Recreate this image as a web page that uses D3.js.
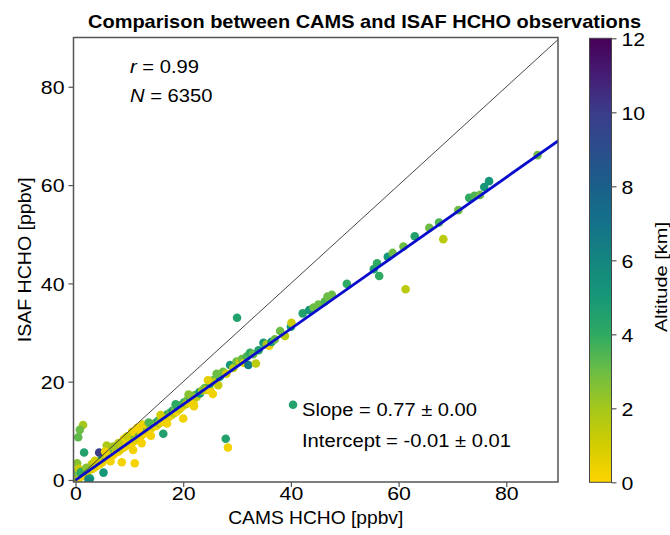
<!DOCTYPE html>
<html>
<head>
<meta charset="utf-8">
<script src="https://cdn.jsdelivr.net/npm/d3@7"></script>
<style>
  body { margin: 0; background: #fff; }
  text { font-family: "Liberation Sans", Arial, sans-serif; fill: #000; }
</style>
</head>
<body>
<svg id="chart" width="670" height="535"></svg>
<script>
// CAMS HCHO (x), ISAF HCHO (y), altitude (km)
var camsX = [
  0.2,0.4,0.5,0.8,1.0,1.2,1.5,1.7,2.0,2.2,2.4,2.7,2.5,3.0,3.2,3.5,3.8,4.0,4.2,4.5,4.8,5.0,5.2,5.5,5.8,6.0,
  1.4,0.8,0.5,1.6,4.4,0.3,0.1,0.6,
  6.3,6.5,6.8,7.0,7.2,7.5,7.8,8.0,8.3,8.6,8.5,8.8,9.0,9.3,9.5,9.8,10.0,10.3,10.5,10.7,10.8,11.0,11.0,11.3,11.5,11.8,12.0,12.2,12.5,12.8,12.0,
  13.0,13.3,13.5,13.8,14.0,14.3,14.5,14.8,15.0,15.3,15.5,15.8,16.0,16.3,16.5,16.8,17.0,17.3,17.5,17.8,18.0,18.3,18.5,18.8,19.0,19.3,19.5,19.8,20.0,20.2,20.5,
  20.8,21.0,21.3,21.6,21.9,22.2,22.5,23.0,23.1,23.5,24.0,24.3,25.0,25.0,25.5,26.0,26.5,26.8,27.0,27.4,28.0,28.7,29.3,29.9,30.5,30.9,31.3,31.8,32.1,32.4,33.0,33.5,34.0,34.9,35.5,36.0,36.4,37.0,38.0,38.9,40.0,40.1,
  30.0,40.4,27.9,28.3,
  42.2,43.4,44.2,45.1,46.3,46.8,47.6,50.4,55.4,56.4,56.0,58.0,58.9,60.9,61.3,63.0,65.7,67.5,68.3,71.1,73.1,74.1,75.1,75.9,76.8,85.8,
  10.5,11.5,9.0,12.5,8.0,7.0,3.0,6.5,14.0,12.3,17.0,22.0,25.5,2.5,1.0,2.0,3.6,5.5,9.6,13.6,15.8,18.6,21.0,24.6,26.2
];
var isafY = [
  0.3,0.1,0.6,0.5,1.2,0.8,1.4,1.1,1.8,1.5,0.2,0.3,2.3,2.2,2.8,2.5,3.3,2.9,3.6,3.2,4.2,3.6,1.5,4.6,7.0,4.5,
  11.2,10.2,8.7,5.6,5.6,3.4,1.7,2.3,
  5.2,4.9,5.5,5.1,6.0,5.6,6.3,5.8,6.8,3.6,6.3,7.1,6.6,7.6,7.0,8.1,7.3,8.3,7.6,6.1,8.8,3.4,8.0,9.0,8.5,9.5,8.8,9.7,9.3,10.2,10.0,
  9.6,10.6,10.0,11.0,10.4,11.3,10.9,11.6,11.0,12.0,11.5,12.4,11.8,9.4,12.8,12.3,13.3,12.8,13.6,13.2,14.1,13.6,14.5,13.9,14.9,14.4,15.2,14.9,12.5,15.8,15.4,
  16.3,15.7,16.6,16.3,15.6,17.3,16.9,17.9,17.6,18.2,18.7,18.3,18.3,19.6,20.3,20.0,19.3,21.0,21.4,22.0,21.6,23.4,22.8,24.1,24.0,24.6,23.8,25.1,23.4,25.9,25.6,23.7,26.4,27.9,27.6,27.3,28.1,28.6,30.3,29.3,31.2,32.0,
  33.0,15.3,8.4,6.6,
  33.9,34.6,35.1,35.7,36.3,37.3,37.7,39.9,42.9,41.5,44.1,45.4,46.2,47.5,38.8,49.6,51.3,52.4,49.0,54.9,57.4,57.8,58.0,59.6,60.8,66.1,
  9.8,10.6,8.4,11.3,7.5,6.8,3.2,3.8,9.0,7.5,11.5,15.0,17.5,-0.2,1.6,2.5,3.9,5.8,8.9,11.7,13.2,15.4,17.4,20.3,21.6
];
var altKm = [
  5,1,3,0.5,4,0.3,2,0.2,3.5,0.8,6,5,4,1,2.5,0.4,3,0.6,1.5,0.2,4.5,0.5,5,2,1.8,0.3,
  2,3,3.2,4.5,10,2.5,3,1.2,
  4,0.8,1.5,0.3,3.5,0.5,2,0.2,4.5,0.3,1,3,0.4,2.5,0.2,4,0.6,1.5,0.3,0.3,5,0.2,0.5,3,0.8,4.5,0.4,2,0.5,3.5,0.3,
  0.2,4,0.6,2.5,0.3,5,1,3,0.4,4.5,1.5,3,0.3,4.5,2,0.5,4,1,3.5,0.4,4.5,1.5,3,0.3,5,1,3.5,0.6,0.3,4,1.5,
  3,0.4,4.5,1.2,0.3,3,1.5,4.5,5,2,3,1,0.3,4,3,1.5,1.3,5,3.5,3,1,5,1.5,3,1.2,3,0.5,3.5,6.5,4,3,1.5,4.5,5,2,0.5,5,3,3,1.5,5,1.2,
  4.5,4.5,4.5,0.3,
  4.5,5,3,3,3.5,3,3,4,4.5,4,4,5,3,3,1.5,4.5,3,3.5,1.5,3,4,3.5,3,5,5,3,
  0.3,0.2,0.5,0.4,1.5,2,1.5,0.3,0.3,0.2,0.3,0.4,0.3,6,4,2.5,1,0.4,1.2,3.5,1,4,2.5,0.6,3
];

var fitSlope = 0.77, fitIntercept = -0.01;
var xTicks = [0, 20, 40, 60, 80];
var yTicks = [0, 20, 40, 60, 80];
var cbTicks = [0, 2, 4, 6, 8, 10, 12];
var cmapStops = [0, 1, 2, 3, 4, 5, 6, 7, 8, 9, 10, 11, 12];
var cmapColors = ['#ffd400', '#d2cd00', '#a5c71c', '#6cbd45', '#2eaa62', '#169878', '#13857f',
                  '#14728a', '#1a5f8a', '#2b4d8c', '#3b3c8a', '#451d74', '#470057'];

var svg = d3.select('#chart');
var L = 73.5, R = 558, T = 37.5, B = 482;

var x = d3.scaleLinear().domain([-0.37, 89.6]).range([L, R]);
var y = d3.scaleLinear().domain([-0.41, 90.03]).range([B, T]);
var color = d3.scaleLinear().domain(cmapStops).range(cmapColors).interpolate(d3.interpolateRgb);

// the figure looks horizontally stretched, so stretch the text the same way
function stretch(sel, k) {
    sel.each(function() {
        var w = this.getComputedTextLength();
        d3.select(this).attr('textLength', w * k).attr('lengthAdjust', 'spacingAndGlyphs');
    });
}

svg.append('clipPath').attr('id', 'clip')
    .append('rect').attr('x', L).attr('y', T).attr('width', R - L).attr('height', B - T);

var plot = svg.append('g').attr('clip-path', 'url(#clip)');

var pts = camsX.map((d, i) => ({ x: d, y: isafY[i], a: altKm[i] }));
plot.selectAll('circle').data(pts).enter()
    .append('circle')
    .attr('cx', d => x(d.x))
    .attr('cy', d => y(d.y))
    .attr('r', 4.3)
    .attr('fill', d => color(d.a));

// 1:1 line
plot.append('line')
    .attr('x1', x(-1)).attr('y1', y(-1)).attr('x2', x(95)).attr('y2', y(95))
    .attr('stroke', '#333').attr('stroke-width', 0.9);

// regression line
plot.append('line')
    .attr('x1', x(0)).attr('y1', y(fitIntercept))
    .attr('x2', x(95)).attr('y2', y(fitSlope * 95 + fitIntercept))
    .attr('stroke', '#0a0ccc').attr('stroke-width', 2.8);

// axes
var xAxis = svg.append('g').attr('transform', 'translate(0,' + B + ')')
    .call(d3.axisBottom(x).tickValues(xTicks).tickSize(5).tickPadding(4).tickSizeOuter(0));
var yAxis = svg.append('g').attr('transform', 'translate(' + L + ',0)')
    .call(d3.axisLeft(y).tickValues(yTicks).tickSize(5).tickPadding(4).tickSizeOuter(0));
[xAxis, yAxis].forEach(g => {
    g.select('.domain').remove();
    g.selectAll('line').attr('stroke', '#555').attr('stroke-width', 1.2);
    g.selectAll('text').style('font-family', '"Liberation Sans", Arial, sans-serif').style('font-size', '19px').attr('fill', '#000');
});
xAxis.selectAll('text').attr('dy', null).attr('y', 18);
yAxis.selectAll('text').attr('dy', '0.36em');
stretch(xAxis.selectAll('text'), 1.12);
stretch(yAxis.selectAll('text'), 1.12);

svg.append('rect')
    .attr('x', L).attr('y', T).attr('width', R - L).attr('height', B - T)
    .attr('fill', 'none').attr('stroke', '#555').attr('stroke-width', 1.5);

// labels
svg.append('text').attr('x', 364.5).attr('y', 28).attr('text-anchor', 'middle')
    .style('font-size', '18.5px').style('font-weight', 'bold')
    .attr('textLength', 553).attr('lengthAdjust', 'spacingAndGlyphs')
    .text('Comparison between CAMS and ISAF HCHO observations');

svg.append('text').attr('x', (L + R) / 2).attr('y', 524).attr('text-anchor', 'middle')
    .style('font-size', '17.5px')
    .attr('textLength', 175).attr('lengthAdjust', 'spacingAndGlyphs')
    .text('CAMS HCHO [ppbv]');

svg.append('text').attr('transform', 'translate(31,' + (T + B) / 2 + ') rotate(-90)')
    .attr('text-anchor', 'middle').style('font-size', '17.5px')
    .attr('textLength', 165).attr('lengthAdjust', 'spacingAndGlyphs')
    .text('ISAF HCHO [ppbv]');

var rTxt = svg.append('text').attr('x', 130).attr('y', 72.5).style('font-size', '18px');
rTxt.append('tspan').style('font-style', 'italic').text('r');
rTxt.append('tspan').text(' = 0.99');
stretch(rTxt, 1.12);
var nTxt = svg.append('text').attr('x', 130).attr('y', 101.5).style('font-size', '18px');
nTxt.append('tspan').style('font-style', 'italic').text('N');
nTxt.append('tspan').text(' = 6350');
stretch(nTxt, 1.12);

svg.append('text').attr('x', 302).attr('y', 416).style('font-size', '18px')
    .attr('textLength', 175).attr('lengthAdjust', 'spacingAndGlyphs')
    .text('Slope = 0.77 \u00b1 0.00');
svg.append('text').attr('x', 302).attr('y', 446.5).style('font-size', '18px')
    .attr('textLength', 209).attr('lengthAdjust', 'spacingAndGlyphs')
    .text('Intercept = -0.01 \u00b1 0.01');

// colorbar
var cbL = 589.5, cbW = 22, cbT = 38.3, cbB = 482.3;
var cy = d3.scaleLinear().domain([0, 12]).range([cbB, cbT]);
var grad = svg.append('defs').append('linearGradient').attr('id', 'cbgrad')
    .attr('x1', 0).attr('y1', 1).attr('x2', 0).attr('y2', 0);
grad.selectAll('stop').data(cmapStops).enter().append('stop')
    .attr('offset', d => d / 12)
    .attr('stop-color', d => color(d));
svg.append('rect').attr('x', cbL).attr('y', cbT).attr('width', cbW).attr('height', cbB - cbT)
    .attr('fill', 'url(#cbgrad)').attr('stroke', '#444').attr('stroke-width', 1);

var cbAxis = svg.append('g').attr('transform', 'translate(' + (cbL + cbW) + ',0)')
    .call(d3.axisRight(cy).tickValues(cbTicks).tickSize(5).tickPadding(5).tickSizeOuter(0));
cbAxis.select('.domain').remove();
cbAxis.selectAll('line').attr('stroke', '#555').attr('stroke-width', 1.2);
cbAxis.selectAll('text').style('font-family', '"Liberation Sans", Arial, sans-serif')
    .style('font-size', '19px').attr('fill', '#000').attr('dy', '0.36em');
stretch(cbAxis.selectAll('text'), 1.12);

svg.append('text').attr('transform', 'translate(667,277) rotate(-90)')
    .attr('text-anchor', 'middle').style('font-size', '17px')
    .attr('textLength', 110).attr('lengthAdjust', 'spacingAndGlyphs')
    .text('Altitude [km]');
</script>
</body>
</html>
